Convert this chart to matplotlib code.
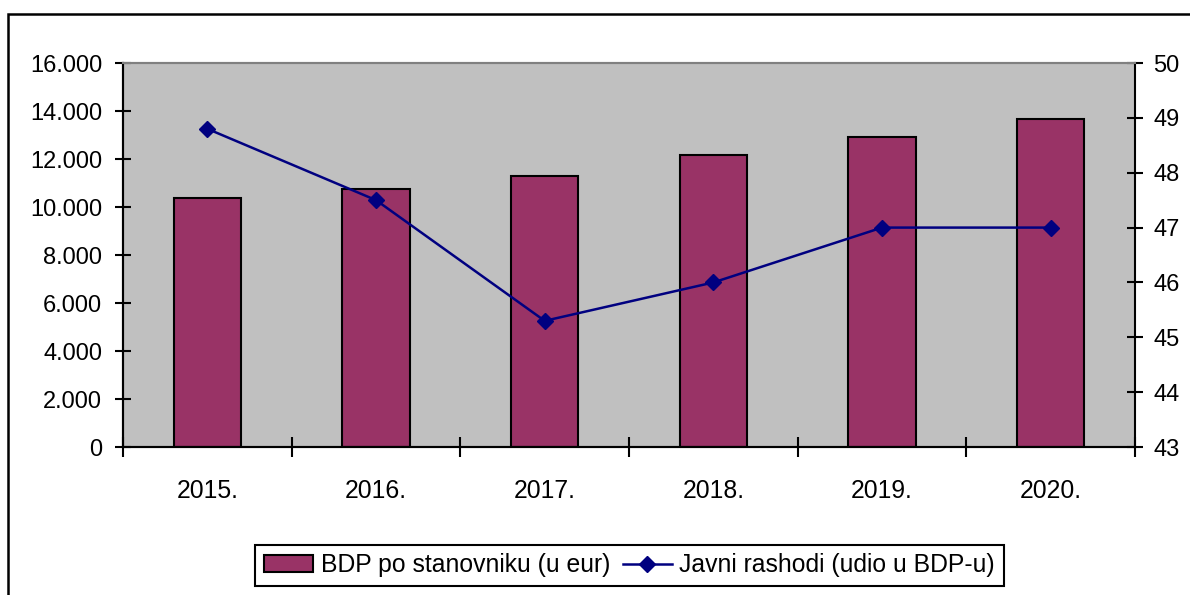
import matplotlib.pyplot as plt
from matplotlib.patches import Rectangle
from matplotlib.ticker import FuncFormatter

plt.rcParams['font.family'] = ['Liberation Sans', 'DejaVu Sans']

years = ['2015.', '2016.', '2017.', '2018.', '2019.', '2020.']
bdp = [10375, 10750, 11300, 12170, 12920, 13670]   # BDP po stanovniku (u eur)
rashodi = [48.8, 47.5, 45.3, 46.0, 47.0, 47.0]     # Javni rashodi (udio u BDP-u)

fs_y = 17
fs = 17.8
fig = plt.figure(figsize=(11.9, 5.95), dpi=100)
ax = fig.add_axes([0.1034, 0.2487, 0.8504, 0.6454])
ax.set_facecolor('#C0C0C0')

x = list(range(len(years)))
ax.bar(x, bdp, width=0.40, color='#993366', edgecolor='black', linewidth=1.5,
       label='BDP po stanovniku (u eur)', zorder=2)
ax.set_xlim(-0.5, len(years) - 0.5)
ax.set_ylim(0, 16000)
ax.set_yticks(range(0, 16001, 2000))
ax.yaxis.set_major_formatter(FuncFormatter(lambda v, p: f'{int(v):,}'.replace(',', '.')))
ax.tick_params(axis='y', direction='inout', length=12, width=1.5, pad=9, labelsize=fs_y)

# labels centred on categories, tick marks on category boundaries
ax.set_xticks(x)
ax.set_xticklabels(years)
ax.tick_params(axis='x', which='major', length=0, pad=23, labelsize=fs)
ax.set_xticks([i - 0.5 for i in range(len(years) + 1)], minor=True)
ax.tick_params(axis='x', which='minor', direction='inout', length=14, width=1.5)

ax2 = ax.twinx()
ax2.plot(x, rashodi, color='#000080', linewidth=1.8, marker='D', markersize=8,
         label='Javni rashodi (udio u BDP-u)', zorder=3)
ax2.set_ylim(43, 50)
ax2.set_yticks(range(43, 51))
ax2.tick_params(axis='y', direction='inout', length=12, width=1.5, pad=7, labelsize=fs_y)

for a in (ax, ax2):
    a.spines['top'].set_color('#808080')
    a.spines['top'].set_linewidth(1.5)
    for s in ('left', 'right', 'bottom'):
        a.spines[s].set_linewidth(1.5)
        a.spines[s].set_color('black')
ax.spines['right'].set_visible(False)

h1, l1 = ax.get_legend_handles_labels()
h2, l2 = ax2.get_legend_handles_labels()
leg = fig.legend(h1 + h2, l1 + l2, loc='center', bbox_to_anchor=(0.529, 0.05),
                 ncol=2, fontsize=fs, frameon=True, fancybox=False, framealpha=1,
                 handlelength=2.0, handletextpad=0.3, columnspacing=0.5,
                 borderpad=0.35, borderaxespad=0.2, edgecolor='black')
leg.get_frame().set_linewidth(1.5)

# outer chart frame
fig.patches.append(Rectangle((8 / 1190, -0.05), 1.2, 0.9765 + 0.05,
                             transform=fig.transFigure, fill=False,
                             edgecolor='black', linewidth=1.8))

fig.savefig('out.png', dpi=100)
